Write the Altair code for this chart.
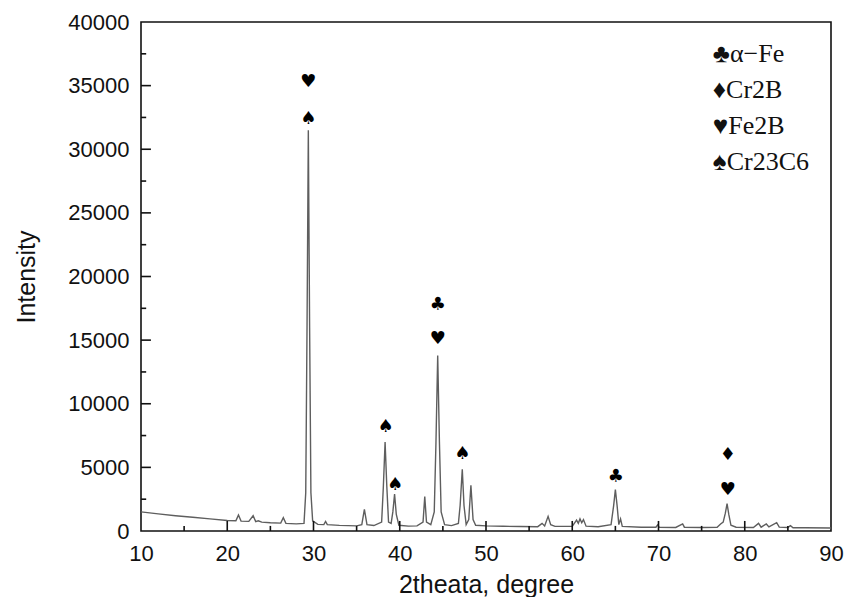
import altair as alt
import pandas as pd

# ---- XRD trace ----
two_theta = [10.0, 12.0, 14.0, 16.0, 18.0, 20.0, 21.0, 21.3, 21.6, 22.5, 23.0, 23.3, 23.6, 24.0, 25.0,
             26.2, 26.5, 26.8, 28.0, 28.9, 29.1, 29.25, 29.4, 29.55, 29.7, 29.9, 30.5, 31.2, 31.4, 31.6,
             33.0, 35.0, 35.6, 35.9, 36.2, 37.0, 37.9, 38.1, 38.3, 38.5, 38.7, 39.0, 39.2, 39.4, 39.6,
             39.9, 41.0, 42.0, 42.7, 42.9, 43.1, 43.6, 44.0, 44.2, 44.4, 44.6, 44.8, 45.2, 46.0, 46.8,
             47.0, 47.25, 47.45, 47.7, 48.0, 48.25, 48.5, 48.8, 50.0, 52.0, 54.0, 56.0, 56.5, 56.8, 57.2,
             57.5, 58.0, 60.0, 60.5, 60.7, 60.9, 61.1, 61.3, 61.6, 63.0, 64.5, 64.8, 65.0, 65.2, 65.4,
             65.6, 65.8, 68.0, 69.7, 69.9, 70.1, 72.0, 72.8, 73.0, 75.0, 76.8, 77.2, 77.5, 77.75, 77.95,
             78.15, 78.4, 79.0, 81.0, 81.6, 81.9, 82.5, 82.8, 83.7, 84.0, 85.0, 85.3, 85.6, 87.0, 90.0]
intensity = [1500, 1350, 1200, 1080, 950, 830, 800, 1250, 780, 760, 1200, 740, 800, 700, 650,
             620, 1050, 600, 560, 600, 3000, 16000, 31500, 16000, 3000, 800, 520, 500, 750, 500,
             440, 400, 500, 1700, 500, 430, 700, 3500, 7000, 3500, 700, 600, 1500, 2900, 1300,
             450, 380, 400, 700, 2700, 700, 500, 1500, 7000, 13800, 7000, 1500, 500, 420, 600,
             2000, 4850, 2000, 500, 900, 3600, 900, 450, 400, 370, 350, 340, 600, 400, 1150,
             500, 360, 360, 850, 600, 950, 650, 900, 380, 330, 500, 2000, 3250, 2000, 500,
             950, 360, 300, 300, 480, 290, 280, 560, 300, 280, 300, 550, 700, 1400, 2150,
             1300, 450, 300, 280, 600, 300, 550, 320, 650, 300, 280, 420, 260, 250, 240]

# ---- phase markers above peaks ----
mark_x = [29.4, 29.4, 38.35, 39.45, 44.4, 44.4, 47.25, 65.05, 78.05, 78.05]
mark_y = [35300, 32400, 8170, 3600, 17750, 15120, 6080, 4250, 5950, 3250]
mark_sym = ["♥", "♠", "♠", "♠", "♣", "♥", "♠", "♣", "♦", "♥"]

# ---- legend text ----
leg_x = [76.3, 76.3, 76.3, 76.3]
leg_y = [36830, 34000, 31180, 28350]
leg_text = ["♣α−Fe", "♦Cr2B", "♥Fe2B", "♠Cr23C6"]

# ---- tick positions ----
x_major = [20, 30, 40, 50, 60, 70, 80]
x_minor = [15, 25, 35, 45, 55, 65, 75, 85]
y_major = [5000, 10000, 15000, 20000, 25000, 30000, 35000]
y_minor = [2500, 7500, 12500, 17500, 22500, 27500, 32500, 37500]

trace = pd.DataFrame({"x": two_theta, "y": intensity})
marks = pd.DataFrame({"x": mark_x, "y": mark_y, "s": mark_sym})
legend = pd.DataFrame({"x": leg_x, "y": leg_y, "t": leg_text})

xscale = alt.Scale(domain=[10, 90], nice=False)
yscale = alt.Scale(domain=[0, 40000], nice=False)

xaxis = alt.Axis(values=[10, 20, 30, 40, 50, 60, 70, 80, 90], ticks=False, domain=False, grid=False,
                 format="d", labelFontSize=22, labelPadding=12, labelFont="Liberation Sans",
                 labelColor="#111", title="2theata, degree", titleFontSize=25,
                 titleFont="Liberation Sans", titleFontWeight="normal", titleColor="#111",
                 titlePadding=8, labelFlush=False)
yaxis = alt.Axis(values=[0, 5000, 10000, 15000, 20000, 25000, 30000, 35000, 40000], ticks=False,
                 domain=False, grid=False, format="d", labelFontSize=22, labelPadding=12,
                 labelFont="Liberation Sans", labelColor="#111",
                 title="Intensity", titleFontSize=25, titleFont="Liberation Sans",
                 titleFontWeight="normal", titleColor="#111", titlePadding=28, labelFlush=False)

line = alt.Chart(trace).mark_line(color="#5e5e5e", strokeWidth=1.4).encode(
    x=alt.X("x:Q", scale=xscale, axis=xaxis),
    y=alt.Y("y:Q", scale=yscale, axis=yaxis),
)

xmaj = alt.Chart(pd.DataFrame({"x": x_major})).mark_rule(color="#111", strokeWidth=1.6).encode(
    x=alt.X("x:Q", scale=xscale), y=alt.datum(0), y2=alt.datum(790))
xmin = alt.Chart(pd.DataFrame({"x": x_minor})).mark_rule(color="#111", strokeWidth=1.6).encode(
    x=alt.X("x:Q", scale=xscale), y=alt.datum(0), y2=alt.datum(400))
ymaj = alt.Chart(pd.DataFrame({"y": y_major})).mark_rule(color="#111", strokeWidth=1.6).encode(
    y=alt.Y("y:Q", scale=yscale), x=alt.datum(10), x2=alt.datum(11.15))
ymin = alt.Chart(pd.DataFrame({"y": y_minor})).mark_rule(color="#111", strokeWidth=1.6).encode(
    y=alt.Y("y:Q", scale=yscale), x=alt.datum(10), x2=alt.datum(10.6))

sym = alt.Chart(marks).mark_text(fontSize=18, color="#000", font="DejaVu Sans",
                                 baseline="middle", align="center").encode(
    x=alt.X("x:Q", scale=xscale), y=alt.Y("y:Q", scale=yscale), text="s:N")

leg = alt.Chart(legend).mark_text(fontSize=26, color="#111", font="Liberation Serif",
                                  baseline="alphabetic", align="left").encode(
    x=alt.X("x:Q", scale=xscale), y=alt.Y("y:Q", scale=yscale), text="t:N")

chart = alt.layer(line, xmaj, xmin, ymaj, ymin, sym, leg).properties(
    width=690, height=509,
    autosize=alt.AutoSizeParams(type="none"),
    padding={"left": 133, "top": 14, "right": 15, "bottom": 66},
    background="white",
).configure_view(stroke="#111", strokeWidth=1.6)

chart.save("out.html", embed_options={"renderer": "svg", "actions": False})
